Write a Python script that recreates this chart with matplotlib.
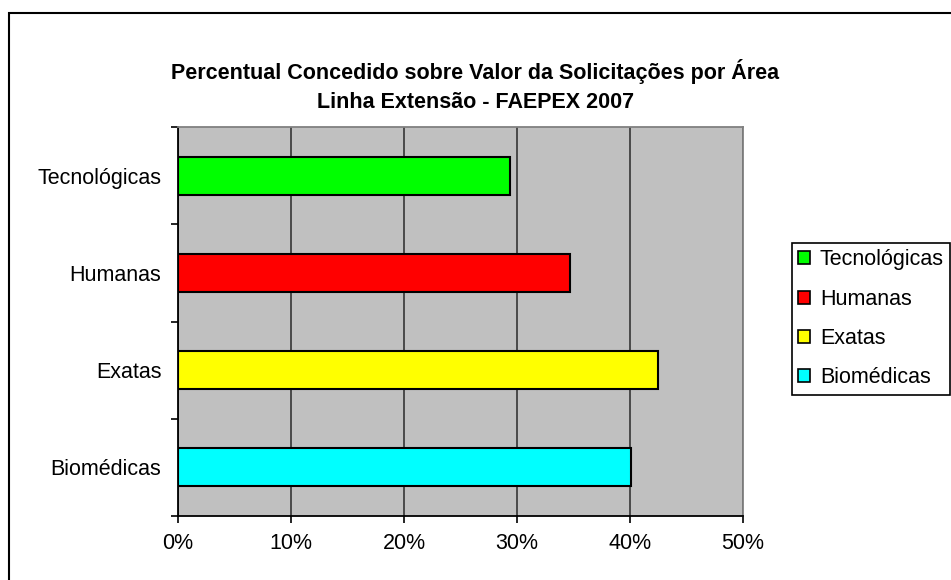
import numpy as np
import matplotlib
matplotlib.use("Agg")
import matplotlib.pyplot as plt
from matplotlib.patches import Rectangle, Patch

plt.rcParams['font.family'] = ['Liberation Sans', 'DejaVu Sans']

# data, bottom to top as drawn
areas = ['Biomédicas', 'Exatas', 'Humanas', 'Tecnológicas']
valores = [40.1, 42.5, 34.7, 29.4]
cores = ['#00FFFF', '#FFFF00', '#FF0000', '#00FF00']
xticks = [0, 10, 20, 30, 40, 50]

W, H = 951, 580
fig = plt.figure(figsize=(W / 100, H / 100), dpi=100)
fig.patch.set_facecolor('white')

# outer chart frame (cut off at right and bottom like the original)
fig.patches.append(Rectangle((9 / W, -0.1), 1.2, 1.1 - 13 / H, transform=fig.transFigure,
                             fill=False, edgecolor='black', lw=1.5))

fig.text(0.5, 1 - 72 / H, 'Percentual Concedido sobre Valor da Solicitações por Área',
         ha='center', va='center', fontsize=15.5, fontweight='bold')
fig.text(0.5, 1 - 102 / H, 'Linha Extensão - FAEPEX 2007',
         ha='center', va='center', fontsize=15.5, fontweight='bold')

x0, x1, y0, y1 = 178, 743, 127, 516
ax = fig.add_axes([x0 / W, 1 - y1 / H, (x1 - x0) / W, (y1 - y0) / H])
ax.set_facecolor('#C0C0C0')

pos = np.arange(len(areas)) + 0.5
ax.barh(pos, valores, height=0.39, color=cores, edgecolor='black', linewidth=1.5, zorder=3)

ax.set_xlim(0, 50)
ax.set_ylim(0, len(areas))
ax.set_xticks(xticks)
ax.set_xticklabels([f'{v}%' for v in xticks], fontsize=15.5)
ax.xaxis.grid(True, color='#404040', lw=1.3, zorder=1)
ax.set_axisbelow(True)

ax.set_yticks(np.arange(len(areas) + 1))
ax.set_yticklabels([])
ax.set_yticks(pos, minor=True)
ax.set_yticklabels(areas, minor=True, fontsize=15.5)
ax.tick_params(axis='y', which='minor', length=0, pad=12)
ax.tick_params(axis='y', which='major', length=5, width=1.2, direction='out')
ax.tick_params(axis='x', length=5, width=1.2, direction='out', pad=7)

for s in ['left', 'bottom']:
    ax.spines[s].set_color('black')
    ax.spines[s].set_linewidth(1.3)
for s in ['top', 'right']:
    ax.spines[s].set_color('#808080')
    ax.spines[s].set_linewidth(1.3)

handles = [Patch(facecolor=c, edgecolor='black', lw=1.2) for c in cores[::-1]]
leg = fig.legend(handles, areas[::-1], loc='upper left',
                 bbox_to_anchor=(792 / W, 1 - 243 / H), fontsize=15.5,
                 frameon=True, fancybox=False, edgecolor='black', framealpha=1,
                 handlelength=0.55, handleheight=0.55, handletextpad=0.45,
                 labelspacing=0.85, borderpad=0.3, borderaxespad=0)
leg.get_frame().set_linewidth(1.2)

fig.savefig('out.png', dpi=100)
